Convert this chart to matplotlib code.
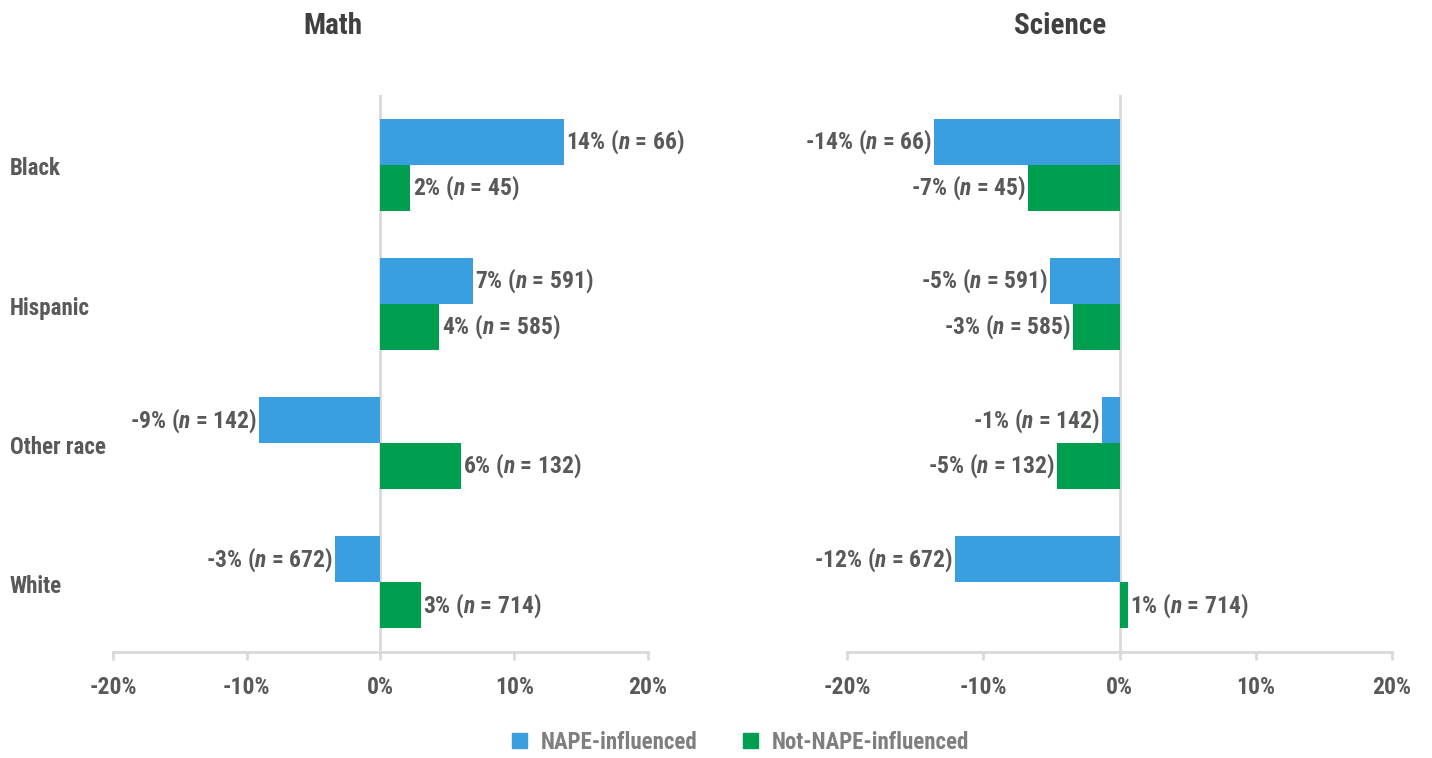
import matplotlib
matplotlib.use("Agg")
import matplotlib.pyplot as plt
from matplotlib import font_manager
from matplotlib.patches import Patch
from matplotlib.transforms import blended_transform_factory

# Racial/ethnic groups and percent change, by subject and NAPE status
groups = ["Black", "Hispanic", "Other race", "White"]

math_nape = [13.7, 6.9, -9.1, -3.4]
math_nape_n = [66, 591, 142, 672]
math_not = [2.2, 4.4, 6.0, 3.0]
math_not_n = [45, 585, 132, 714]

sci_nape = [-13.6, -5.1, -1.3, -12.1]
sci_nape_n = [66, 591, 142, 672]
sci_not = [-6.7, -3.4, -4.6, 0.6]
sci_not_n = [45, 585, 132, 714]

xticks = [-20, -10, 0, 10, 20]
series_names = ["NAPE-influenced", "Not-NAPE-influenced"]

BLUE = "#3a9fe0"
GREEN = "#009e4f"
TEXT = "#595959"
GRID = "#d9d9d9"

available = {f.name for f in font_manager.fontManager.ttflist}
family = "DejaVu Sans"
for cand in ["Liberation Sans Narrow", "Roboto Condensed", "Open Sans Condensed",
             "Liberation Sans", "Roboto"]:
    if cand in available:
        family = cand
        break

plt.rcParams["font.family"] = family
plt.rcParams["font.weight"] = "bold"
plt.rcParams["mathtext.fontset"] = "custom"
plt.rcParams["mathtext.it"] = f"{family}:italic:bold"
plt.rcParams["mathtext.rm"] = f"{family}:bold"


def label(v, n):
    return f"{round(v):d}% ($\\mathit{{n}}$ = {n})"


def draw_panel(ax, nape, nape_n, notn, notn_n):
    y = list(range(len(groups)))
    h = 0.33
    ax.barh([i - h / 2 for i in y], nape, height=h, color=BLUE, zorder=2)
    ax.barh([i + h / 2 for i in y], notn, height=h, color=GREEN, zorder=2)

    for vals, ns, off in [(nape, nape_n, -h / 2), (notn, notn_n, h / 2)]:
        for i, (v, n) in enumerate(zip(vals, ns)):
            dx = 0.2 if v >= 0 else -0.15
            ax.text(v + dx, i + off, label(v, n), ha="left" if v >= 0 else "right",
                    va="center", fontsize=17, color=TEXT, fontweight="bold")

    ax.axvline(0, color=GRID, lw=2, zorder=1)
    ax.set_xlim(-20, 20)
    ax.set_ylim(len(groups) - 0.5, -0.5)
    ax.set_xticks(xticks)
    ax.set_xticklabels([f"{t}%" for t in xticks])
    ax.set_yticks([])
    for s in ["top", "right", "left"]:
        ax.spines[s].set_visible(False)
    ax.spines["bottom"].set_color(GRID)
    ax.spines["bottom"].set_linewidth(2)
    ax.tick_params(axis="x", colors=GRID, width=2, length=6, pad=11,
                   labelcolor=TEXT, labelsize=17)


fig = plt.figure(figsize=(14.32, 7.58), dpi=100)
ax1 = fig.add_axes([0.0789, 0.1398, 0.3736, 0.7349])
ax2 = fig.add_axes([0.5915, 0.1398, 0.3806, 0.7349])

draw_panel(ax1, math_nape, math_nape_n, math_not, math_not_n)
draw_panel(ax2, sci_nape, sci_nape_n, sci_not, sci_not_n)

fig.text(333 / 1432, 1 - 26 / 758, "Math", ha="center", va="center",
         fontsize=21, color="#404040", fontweight="bold")
fig.text(1060 / 1432, 1 - 26 / 758, "Science", ha="center", va="center",
         fontsize=21, color="#404040", fontweight="bold")

trans = blended_transform_factory(fig.transFigure, ax1.transData)
for i, g in enumerate(groups):
    ax1.text(10 / 1432, i + 0.03, g, transform=trans, ha="left",
             va="center", fontsize=16.5, color=TEXT, fontweight="bold")

handles = [Patch(color=BLUE), Patch(color=GREEN)]
fig.legend(handles, series_names, loc="center", bbox_to_anchor=(0.517, 0.021),
           ncol=2, frameon=False, fontsize=16.5, handlelength=0.65, handleheight=0.65,
           handletextpad=0.6, columnspacing=2.0, labelcolor="#7f7f7f")

fig.savefig("out.png", dpi=100)
